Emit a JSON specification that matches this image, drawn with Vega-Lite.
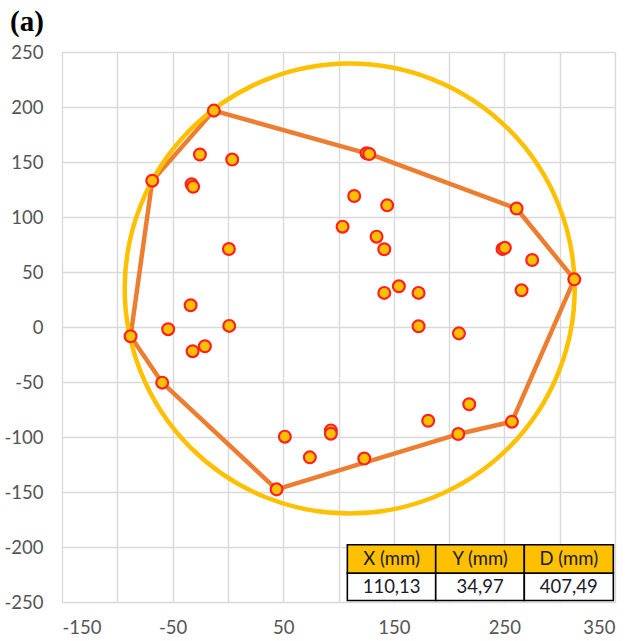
{
  "$schema": "https://vega.github.io/schema/vega-lite/v6.json",
  "width": 553,
  "height": 550,
  "autosize": "none",
  "padding": {"left": 62, "top": 52, "right": 18, "bottom": 39},
  "background": "white",
  "config": {
    "view": {"stroke": null},
    "axis": {
      "grid": true,
      "gridColor": "#D9D9D9",
      "gridWidth": 1.4,
      "domain": false,
      "ticks": false,
      "labelFont": "Lato",
      "labelFontSize": 18.5,
      "labelColor": "#555555",
      "title": null
    }
  },
  "title": {
    "text": "(a)",
    "anchor": "start",
    "frame": "group",
    "font": "Liberation Serif",
    "fontWeight": "bold",
    "fontSize": 29,
    "color": "black",
    "dx": -52,
    "offset": 6
  },
  "datasets": {
    "hull": [
      {"o": 1, "X": -12.7, "Y": 196.7},
      {"o": 2, "X": 125.4, "Y": 157.9},
      {"o": 3, "X": 127.8, "Y": 157.3},
      {"o": 4, "X": 261.0, "Y": 107.7},
      {"o": 5, "X": 313.2, "Y": 43.3},
      {"o": 6, "X": 256.8, "Y": -86.1},
      {"o": 7, "X": 208.3, "Y": -97.3},
      {"o": 8, "X": 44.0, "Y": -147.6},
      {"o": 9, "X": -59.4, "Y": -50.6},
      {"o": 10, "X": -88.0, "Y": -8.4},
      {"o": 11, "X": -68.4, "Y": 133.0},
      {"o": 12, "X": -12.7, "Y": 196.7}
    ],
    "points": [
      {"X": -12.7, "Y": 196.7},
      {"X": 125.4, "Y": 157.9},
      {"X": 127.8, "Y": 157.3},
      {"X": 261.0, "Y": 107.7},
      {"X": 313.2, "Y": 43.3},
      {"X": 256.8, "Y": -86.1},
      {"X": 208.3, "Y": -97.3},
      {"X": 44.0, "Y": -147.6},
      {"X": -59.4, "Y": -50.6},
      {"X": -88.0, "Y": -8.4},
      {"X": -68.4, "Y": 133.0},
      {"X": -25.3, "Y": 156.8},
      {"X": 3.9, "Y": 152.2},
      {"X": -32.8, "Y": 129.7},
      {"X": -31.4, "Y": 127.5},
      {"X": 0.9, "Y": 70.9},
      {"X": -33.7, "Y": 19.8},
      {"X": 1.2, "Y": 1.0},
      {"X": -54.0, "Y": -2.0},
      {"X": -31.9, "Y": -22.0},
      {"X": -20.8, "Y": -17.5},
      {"X": 51.5, "Y": -99.7},
      {"X": 74.1, "Y": -118.5},
      {"X": 93.1, "Y": -94.0},
      {"X": 93.1, "Y": -97.0},
      {"X": 123.3, "Y": -119.6},
      {"X": 181.1, "Y": -85.2},
      {"X": 218.2, "Y": -70.2},
      {"X": 172.4, "Y": 0.7},
      {"X": 208.9, "Y": -5.8},
      {"X": 114.2, "Y": 119.1},
      {"X": 144.0, "Y": 110.6},
      {"X": 103.7, "Y": 91.2},
      {"X": 134.4, "Y": 82.1},
      {"X": 141.4, "Y": 70.7},
      {"X": 141.4, "Y": 31.0},
      {"X": 154.6, "Y": 37.0},
      {"X": 172.4, "Y": 31.0},
      {"X": 248.3, "Y": 71.0},
      {"X": 250.4, "Y": 72.0},
      {"X": 275.1, "Y": 60.9},
      {"X": 265.5, "Y": 33.4}
    ],
    "center": [
      {"X": 110.13, "Y": 34.97, "D": 407.49}
    ],
    "table": [
      {"kind": "header", "text": "X (mm)", "x0": 108.0, "x1": 187.9, "xc": 148.0, "y0": -198.0, "y1": -223.8, "yc": -211.0},
      {"kind": "header", "text": "Y (mm)", "x0": 187.9, "x1": 268.0, "xc": 228.0, "y0": -198.0, "y1": -223.8, "yc": -211.0},
      {"kind": "header", "text": "D (mm)", "x0": 268.0, "x1": 348.5, "xc": 308.2, "y0": -198.0, "y1": -223.8, "yc": -211.0},
      {"kind": "body", "text": "110,13", "x0": 108.0, "x1": 187.9, "xc": 148.0, "y0": -223.8, "y1": -248.6, "yc": -236.2},
      {"kind": "body", "text": "34,97", "x0": 187.9, "x1": 268.0, "xc": 228.0, "y0": -223.8, "y1": -248.6, "yc": -236.2},
      {"kind": "body", "text": "407,49", "x0": 268.0, "x1": 348.5, "xc": 308.2, "y0": -223.8, "y1": -248.6, "yc": -236.2}
    ]
  },
  "layer": [
    {
      "data": {"name": "hull"},
      "mark": {"type": "line", "color": "#ED7D31", "strokeWidth": 4.5, "strokeJoin": "round"},
      "encoding": {
        "x": {"field": "X", "type": "quantitative", "scale": {"domain": [-150, 350], "nice": false, "zero": false},
              "axis": {"values": [-150, -100, -50, 0, 50, 100, 150, 200, 250, 300, 350], "labelExpr": "'' + datum.value", "labelPadding": 16}},
        "y": {"field": "Y", "type": "quantitative", "scale": {"domain": [-250, 250], "nice": false, "zero": false},
              "axis": {"values": [-250, -200, -150, -100, -50, 0, 50, 100, 150, 200, 250], "labelExpr": "'' + datum.value", "labelPadding": 19}},
        "order": {"field": "o", "type": "quantitative"}
      }
    },
    {
      "data": {"name": "center"},
      "mark": {"type": "point", "shape": "circle", "filled": false, "size": 202500, "stroke": "#FFC000", "strokeWidth": 4.5, "opacity": 1},
      "encoding": {
        "x": {"field": "X", "type": "quantitative"},
        "y": {"field": "Y", "type": "quantitative"}
      }
    },
    {
      "data": {"name": "points"},
      "mark": {"type": "point", "shape": "circle", "filled": true, "size": 140, "fill": "#FFC000", "stroke": "#FF2020", "strokeWidth": 2.2, "opacity": 1},
      "encoding": {
        "x": {"field": "X", "type": "quantitative"},
        "y": {"field": "Y", "type": "quantitative"}
      }
    },
    {
      "data": {"name": "table"},
      "mark": {"type": "rect", "stroke": "black", "strokeWidth": 1.6},
      "encoding": {
        "x": {"field": "x0", "type": "quantitative"},
        "x2": {"field": "x1"},
        "y": {"field": "y0", "type": "quantitative"},
        "y2": {"field": "y1"},
        "fill": {"field": "kind", "type": "nominal", "scale": {"domain": ["header", "body"], "range": ["#FFC000", "#FFFFFF"]}, "legend": null}
      }
    },
    {
      "data": {"name": "table"},
      "mark": {"type": "text", "font": "Lato", "fontSize": 18.5, "color": "#1a1a2a", "align": "center", "baseline": "middle"},
      "encoding": {
        "x": {"field": "xc", "type": "quantitative"},
        "y": {"field": "yc", "type": "quantitative"},
        "text": {"field": "text"}
      }
    }
  ]
}
